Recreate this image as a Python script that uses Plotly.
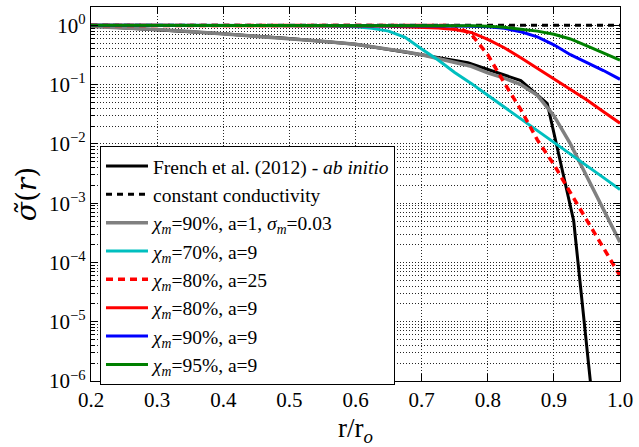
import plotly.graph_objects as go

# Radial grid (r / r_o) for the model conductivity profiles
r_model = [0.2, 0.25, 0.3, 0.35, 0.4, 0.45, 0.5, 0.55, 0.6, 0.625, 0.65, 0.675,
           0.7, 0.725, 0.75, 0.775, 0.8, 0.825, 0.85, 0.875, 0.9, 0.925, 0.95,
           0.975, 1.0]

# Tabulated ab initio profile (French et al. 2012)
r_french = [0.2, 0.3, 0.4, 0.5, 0.6, 0.7, 0.77, 0.85, 0.89, 0.93, 0.96]
sigma_french = [0.98, 0.85, 0.72, 0.6, 0.48, 0.32, 0.234, 0.117, 0.048, 5.0e-4, 3.0e-7]

sigma_const = [1.0] * len(r_model)

sigma_90_a1 = [0.96, 0.91, 0.85, 0.79, 0.72, 0.66, 0.60, 0.54, 0.48, 0.44, 0.40, 0.36,
               0.32, 0.275, 0.234, 0.204, 0.158, 0.129, 0.100, 0.066, 0.030, 0.010,
               0.0028, 7.9e-4, 2.2e-4]

sigma_70_a9 = [1.0, 1.0, 1.0, 1.0, 1.0, 1.0, 1.0, 0.99, 0.95, 0.89, 0.80, 0.63,
               0.40, 0.26, 0.16, 0.105, 0.066, 0.042, 0.026, 0.0166, 0.0105, 0.0068,
               0.0043, 0.0027, 0.0017]

sigma_80_a25 = [1.0, 1.0, 1.0, 1.0, 1.0, 1.0, 1.0, 1.0, 1.0, 1.0, 1.0, 1.0,
                1.0, 1.0, 0.99, 0.71, 0.32, 0.107, 0.038, 0.0117, 0.0045, 0.0015,
                5.2e-4, 1.7e-4, 6.0e-5]

sigma_80_a9 = [1.0, 1.0, 1.0, 1.0, 1.0, 1.0, 1.0, 1.0, 0.99, 0.98, 0.97, 0.95,
               0.93, 0.90, 0.85, 0.76, 0.58, 0.42, 0.285, 0.19, 0.126, 0.083,
               0.055, 0.035, 0.0224]

sigma_90_a9 = [1.0, 1.0, 1.0, 1.0, 1.0, 1.0, 1.0, 1.0, 1.0, 1.0, 0.995, 0.99,
               0.99, 0.99, 0.98, 0.97, 0.95, 0.89, 0.78, 0.64, 0.47, 0.32,
               0.236, 0.173, 0.123]

sigma_95_a9 = [1.0, 1.0, 1.0, 1.0, 1.0, 1.0, 1.0, 1.0, 1.0, 1.0, 1.0, 1.0,
               1.0, 1.0, 1.0, 0.99, 0.97, 0.93, 0.86, 0.80, 0.71, 0.59,
               0.45, 0.34, 0.26]

x_ticks = [0.2, 0.3, 0.4, 0.5, 0.6, 0.7, 0.8, 0.9, 1.0]
y_tick_vals = [1e-6, 1e-5, 1e-4, 1e-3, 1e-2, 1e-1, 1e0]
y_tick_text = ["10<sup>−6</sup>", "10<sup>−5</sup>", "10<sup>−4</sup>", "10<sup>−3</sup>",
               "10<sup>−2</sup>", "10<sup>−1</sup>", "10<sup>0</sup>"]

SERIF = "'Liberation Serif', 'Times New Roman', 'DejaVu Serif', serif"
SERIF_MARKS = "'DejaVu Serif', serif"

series = [
    (r_french, sigma_french, "French et al. (2012) - <i>ab initio</i>", "#000000", "solid", 3),
    (r_model, sigma_const, "constant conductivity", "#000000", "6px,5px", 3),
    (r_model, sigma_90_a1, "<i>χ<sub>m</sub></i>=90%, a=1, <i>σ<sub>m</sub></i>=0.03", "#808080", "solid", 3.5),
    (r_model, sigma_70_a9, "<i>χ<sub>m</sub></i>=70%, a=9", "#00BFBF", "solid", 3),
    (r_model, sigma_80_a25, "<i>χ<sub>m</sub></i>=80%, a=25", "#FF0000", "7px,5px", 3.5),
    (r_model, sigma_80_a9, "<i>χ<sub>m</sub></i>=80%, a=9", "#FF0000", "solid", 3),
    (r_model, sigma_90_a9, "<i>χ<sub>m</sub></i>=90%, a=9", "#0000FF", "solid", 3),
    (r_model, sigma_95_a9, "<i>χ<sub>m</sub></i>=95%, a=9", "#008000", "solid", 3),
]

fig = go.Figure()
for xs, ys, name, color, dash, width in series:
    fig.add_trace(go.Scatter(
        x=xs, y=ys, name=name, mode="lines",
        line=dict(color=color, dash=dash, width=width),
    ))

minor_vals = [m * 10.0 ** e for e in range(-6, 1) for m in range(2, 10)]

grid_style = dict(showgrid=True, gridcolor="rgba(0,0,0,0.85)", gridwidth=1, griddash="1px,2px")

fig.update_xaxes(
    range=[0.2, 1.0], tickmode="array", tickvals=x_ticks,
    ticktext=[f"{v:.1f}" for v in x_ticks],
    ticks="inside", ticklen=7, tickcolor="black",
    showline=True, linecolor="black", linewidth=1.2, mirror="ticks",
    zeroline=False,
    title=dict(text="r/r<sub><i>o</i></sub>", font=dict(family=SERIF, size=27), standoff=10),
    tickfont=dict(family=SERIF, size=21),
    **grid_style,
)

fig.update_yaxes(
    type="log", range=[-6, 0.31],
    tickmode="array", tickvals=y_tick_vals, ticktext=y_tick_text,
    ticks="inside", ticklen=7, tickcolor="black",
    showline=True, linecolor="black", linewidth=1.2, mirror="ticks",
    zeroline=False,
    minor=dict(tickmode="array", tickvals=minor_vals, ticks="inside", ticklen=4,
               tickcolor="black", showgrid=True, gridcolor="rgba(0,0,0,0.85)",
               gridwidth=1, griddash="1px,2px"),
    title=dict(text="<i>σ̃</i>(<i>r</i>)", font=dict(family=SERIF_MARKS, size=28), standoff=4),
    tickfont=dict(family=SERIF, size=21),
    **grid_style,
)

fig.update_layout(
    width=639, height=447, autosize=False,
    margin=dict(l=91, r=16, t=6, b=55),
    paper_bgcolor="white", plot_bgcolor="white",
    font=dict(family=SERIF, size=20, color="black"),
    showlegend=True,
    legend=dict(
        x=0.017, y=0.629, xanchor="left", yanchor="top",
        bordercolor="black", borderwidth=1, bgcolor="white",
        font=dict(family=SERIF, size=19.5, color="black"),
        tracegroupgap=0, itemwidth=42,
    ),
)

fig.write_html("out.html")
